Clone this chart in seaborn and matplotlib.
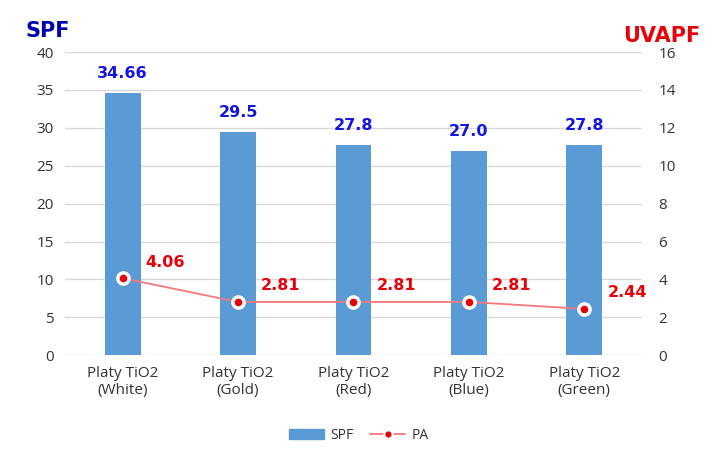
import pandas as pd
import seaborn as sns
import matplotlib.pyplot as plt
from matplotlib.lines import Line2D
from matplotlib.patches import Patch

categories = ['Platy TiO2\n(White)', 'Platy TiO2\n(Gold)', 'Platy TiO2\n(Red)',
              'Platy TiO2\n(Blue)', 'Platy TiO2\n(Green)']
spf = [34.66, 29.5, 27.8, 27.0, 27.8]
spf_labels = ['34.66', '29.5', '27.8', '27.0', '27.8']
pa = [4.06, 2.81, 2.81, 2.81, 2.44]
pa_labels = ['4.06', '2.81', '2.81', '2.81', '2.44']

df = pd.DataFrame({'cat': categories, 'SPF': spf, 'PA': pa})

sns.set_style('white')
plt.rcParams['font.family'] = ['Open Sans', 'DejaVu Sans']
bold_font = ['DejaVu Sans']

fig = plt.figure(figsize=(7.18, 4.49), dpi=100)
ax = fig.add_axes([0.0905, 0.209, 0.8035, 0.675])

bar_color = '#5b9bd5'
sns.barplot(data=df, x='cat', y='SPF', color=bar_color, width=0.31,
            saturation=1, ax=ax, zorder=2, linewidth=0)
ax.set_ylim(0, 40)
ax.set_yticks(range(0, 41, 5))
ax.set_xlim(-0.5, 4.5)
ax.yaxis.grid(True, color='#d9d9d9', linewidth=1, zorder=0)
ax.set_axisbelow(True)
for s in ax.spines.values():
    s.set_visible(False)
ax.set_xlabel('')
ax.set_ylabel('')
ax.tick_params(axis='both', length=0, labelsize=11, colors='#333333', pad=8)
for i, v in enumerate(spf):
    ax.text(i, v + 1.5, spf_labels[i], ha='center', va='bottom', color='#1515e0',
            fontsize=11.5, fontweight='bold', family=bold_font)

ax2 = ax.twinx()
sns.lineplot(x=list(range(5)), y=pa, ax=ax2, color='#f4777b', linewidth=1.3,
             marker='o', markersize=8, markerfacecolor='#e8000b',
             markeredgecolor='white', markeredgewidth=2.5, zorder=3)
ax2.set_ylim(0, 16)
ax2.set_yticks(range(0, 17, 2))
for s in ax2.spines.values():
    s.set_visible(False)
ax2.tick_params(axis='both', length=0, labelsize=11, colors='#333333', pad=12)
for i, v in enumerate(pa):
    ax2.text(i + 0.2, v + 0.85, pa_labels[i], ha='left', va='center', color='#e8000b',
             fontsize=11.5, fontweight='bold', family=bold_font)

fig.text(0.035, 0.93, 'SPF', color='#0000b0', fontsize=15, fontweight='bold',
         ha='left', va='center', family=bold_font)
fig.text(0.975, 0.92, 'UVAPF', color='#e8000b', fontsize=15, fontweight='bold',
         ha='right', va='center', family=bold_font)

handles = [Patch(color=bar_color),
           Line2D([], [], color='#f4777b', linewidth=1.3, marker='o', markersize=6,
                  markerfacecolor='#e8000b', markeredgecolor='white', markeredgewidth=1.5)]
fig.legend(handles, ['SPF', 'PA'], loc='center', bbox_to_anchor=(0.5, 0.03), ncol=2,
           frameon=False, fontsize=10, handlelength=2.5, columnspacing=1.2,
           handletextpad=0.5, labelcolor='#333333')

fig.savefig('out.png', dpi=100)
